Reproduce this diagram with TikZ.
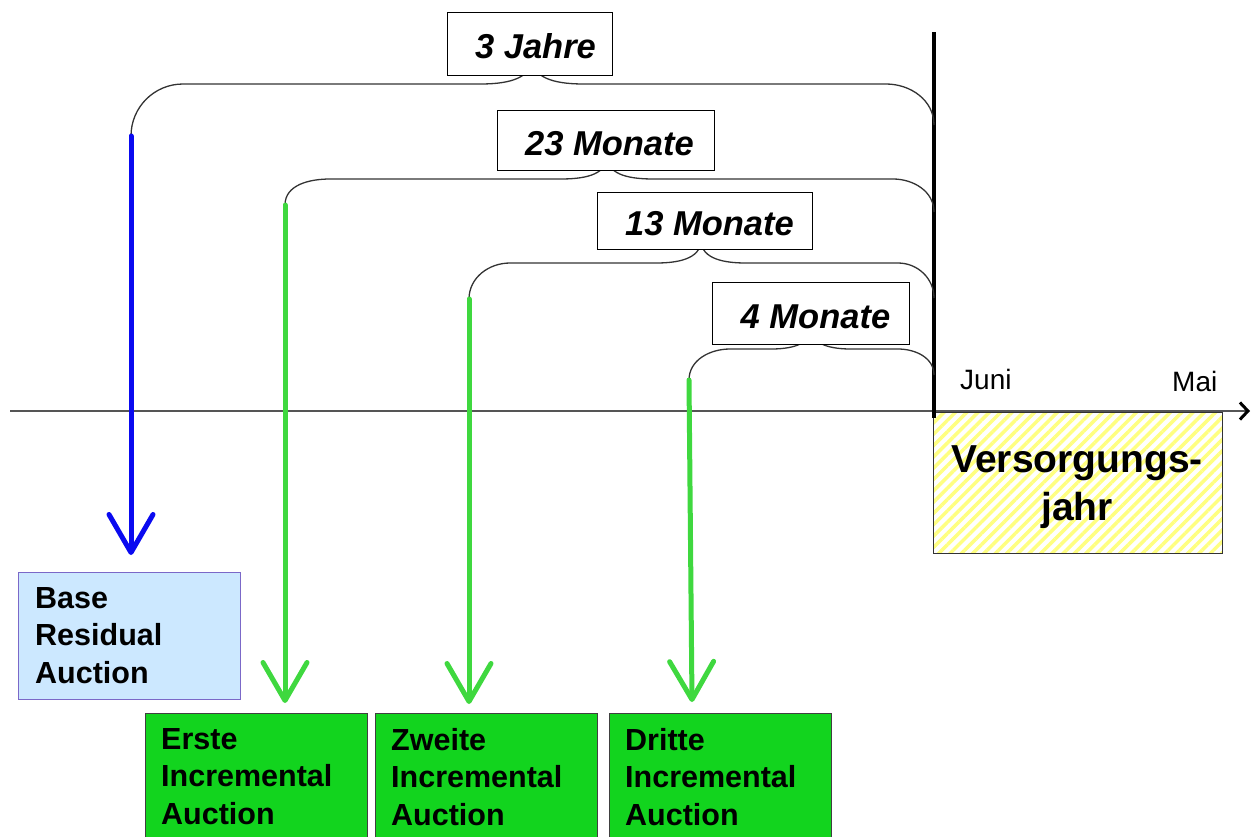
\documentclass[tikz,border=0pt]{standalone}
\usepackage{fontspec}
\setmainfont{Liberation Sans}
\usetikzlibrary{arrows.meta,patterns.meta}
\definecolor{bracegray}{HTML}{333333}
\definecolor{axisgray}{HTML}{555555}
\definecolor{blueline}{HTML}{0A0AF0}
\definecolor{greenline}{HTML}{3FD83F}
\definecolor{boxgreen}{HTML}{12D41E}
\definecolor{boxblue}{HTML}{CCE8FF}
\definecolor{boxpurple}{HTML}{7B68C8}
\definecolor{hatchyellow}{HTML}{FFFF80}
\begin{document}
\begin{tikzpicture}[x=1pt,y=1pt,
  brace/.style={draw=bracegray, line width=1.3pt},
  lbl/.style={draw=black, fill=white, line width=0.8pt, inner sep=0pt,
    text height=30.5pt, text depth=0pt,
    font=\fontsize{34.5}{40}\selectfont\bfseries\itshape},
  coloredarrow/.style={line width=5pt, line cap=round,
    -{Straight Barb[length=38pt,width=44pt,round]}},
  bluearrow/.style={coloredarrow, blueline},
  greenarrow/.style={coloredarrow, greenline},
  bbox/.style={draw=boxpurple, fill=boxblue, line width=1pt, anchor=north west,
    minimum width=222pt, minimum height=127pt, inner sep=0pt},
  gbox/.style={draw=black!75, fill=boxgreen, line width=1pt, anchor=north west,
    minimum width=222pt, minimum height=140pt, inner sep=0pt},
  boxtext/.style={anchor=north west, inner sep=0pt, align=left,
    font=\fontsize{30.5}{37.5}\selectfont\bfseries},
  month/.style={anchor=base west, inner sep=0pt, font=\fontsize{28}{32}\selectfont},
]
\useasboundingbox (0,-836) rectangle (1252,0);

% axis
\coordinate (ax0) at (10,-411);
\coordinate (ax1) at (1250,-411);
\draw[axisgray, line width=1.5pt, -{Straight Barb[length=8pt,width=17pt,color=black,line width=3pt]}] (ax0) -- (ax1);

% supply year box
\node[draw=black!80, line width=0.8pt, anchor=north west, minimum width=289pt, minimum height=141pt, inner sep=0pt,
  preaction={fill=white}, pattern={Lines[angle=45,distance=8pt,line width=3.5pt]}, pattern color=hatchyellow] (vj) at (932,-411) {};
\node[align=center, inner sep=0pt, font=\fontsize{39}{48}\selectfont\bfseries] (vjtext) at (1077,-487.5) {Versorgungs-\\jahr};

\node[month] (juni) at (960,-389) {Juni};
\node[month] (mai) at (1172,-391) {Mai};

% black vertical line
\coordinate (vtop) at (934,-32);
\coordinate (vbot) at (934,-418);
\draw[black, line width=3.5pt] (vtop) -- (vbot);

% brace end points
\coordinate (b1l) at (131,-136);
\coordinate (b2l) at (285,-205);
\coordinate (b3l) at (469,-299);
\coordinate (b4l) at (689,-380);

% braces
\draw[brace] (b1l) to[out=90,in=180] (183,-84) -- (480,-84) to[out=0,in=-90] (532,-58) to[out=-90,in=180] (584,-84) -- (886,-84) to[out=0,in=90] (934,-125);
\draw[brace] (b2l) to[out=90,in=180] (330,-179) -- (560,-179) to[out=0,in=-90] (607,-156) to[out=-90,in=180] (654,-179) -- (893,-179) to[out=0,in=90] (934,-212);
\draw[brace] (b3l) to[out=90,in=180] (510,-263) -- (656,-263) to[out=0,in=-90] (701,-240) to[out=-90,in=180] (746,-263) -- (898,-263) to[out=0,in=90] (934,-298);
\draw[brace] (b4l) to[out=90,in=180] (730,-349) -- (771,-349) to[out=0,in=-90] (811,-328) to[out=-90,in=180] (851,-349) -- (898,-349) to[out=0,in=90] (934,-375);

% labels
\node[lbl, minimum width=165pt, minimum height=63pt] (l1) at (529.5,-43.5) {\hspace*{12pt}3 Jahre};
\node[lbl, minimum width=217pt, minimum height=60pt] (l2) at (605.5,-140) {\hspace*{8pt}23 Monate};
\node[lbl, minimum width=215pt, minimum height=57pt] (l3) at (704.5,-220.5) {\hspace*{10pt}13 Monate};
\node[lbl, minimum width=197pt, minimum height=62pt] (l4) at (810.5,-313) {\hspace*{10pt}4 Monate};

% arrow tips
\coordinate (t1) at (131,-555);
\coordinate (t2) at (285,-703);
\coordinate (t3) at (469,-704);
\coordinate (t4) at (692,-702);

\draw[bluearrow] (b1l) -- (t1);
\draw[greenarrow] (b2l) -- (t2);
\draw[greenarrow] (b3l) -- (t3);
\draw[greenarrow] (b4l) -- (t4);

% auction boxes
\node[bbox] (bra) at (18,-572) {};
\node[boxtext] (bratext) at ([shift={(17,-15)}]bra.north west) {Base\\Residual\\Auction};
\node[gbox] (ia1) at (145,-713) {};
\node[boxtext] (ia1text) at ([shift={(16,-15)}]ia1.north west) {Erste\\Incremental\\Auction};
\node[gbox] (ia2) at (375,-713) {};
\node[boxtext] (ia2text) at ([shift={(16,-15)}]ia2.north west) {Zweite\\Incremental\\Auction};
\node[gbox] (ia3) at (609,-713) {};
\node[boxtext] (ia3text) at ([shift={(16,-15)}]ia3.north west) {Dritte\\Incremental\\Auction};
\end{tikzpicture}
\end{document}
